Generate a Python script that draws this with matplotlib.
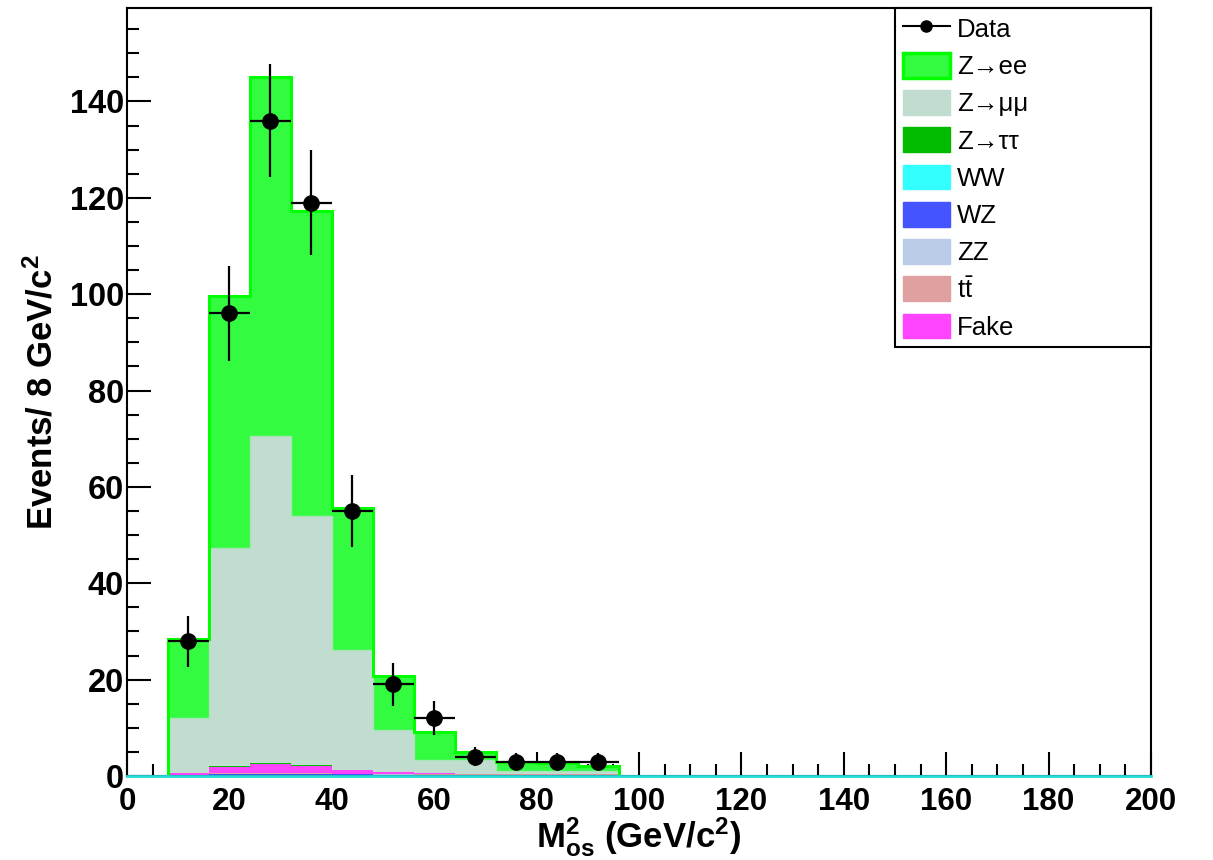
import numpy as np
import matplotlib
matplotlib.use("Agg")
import matplotlib.pyplot as plt
from matplotlib.patches import Patch
from matplotlib.lines import Line2D
from matplotlib.ticker import MultipleLocator

plt.rcParams['font.family'] = ['Liberation Sans', 'DejaVu Sans']
plt.rcParams['mathtext.fontset'] = 'custom'
plt.rcParams['mathtext.rm'] = 'Liberation Sans'
plt.rcParams['mathtext.bf'] = 'Liberation Sans:bold'
plt.rcParams['mathtext.it'] = 'Liberation Sans:italic'

# ---- data (bins of 8 GeV/c^2 from 8 to 96) ----
bin_edges = [8, 16, 24, 32, 40, 48, 56, 64, 72, 80, 88, 96]
bin_centers = [12, 20, 28, 36, 44, 52, 60, 68, 76, 84, 92]

data_counts = [28, 96, 136, 119, 55, 19, 12, 4, 3, 3, 3]
data_errors = [5.3, 9.8, 11.7, 10.9, 7.4, 4.4, 3.5, 2.0, 1.7, 1.7, 1.7]

ww     = [0.05, 0.1, 0.1, 0.1, 0.05, 0.05, 0.05, 0.05, 0.05, 0.05, 0.05]
wz     = [0.1, 0.3, 0.3, 0.3, 0.3, 0.25, 0.2, 0.2, 0.2, 0.2, 0.2]
zz     = [0.05, 0.1, 0.1, 0.1, 0.1, 0.05, 0.05, 0.05, 0.05, 0.05, 0.05]
ttbar  = [0.02, 0.05, 0.05, 0.05, 0.05, 0.05, 0.05, 0.05, 0.05, 0.05, 0.05]
fake   = [0.35, 1.25, 1.85, 1.5, 0.75, 0.4, 0.25, 0.15, 0.05, 0.05, 0.05]
ztautau = [0.03, 0.2, 0.4, 0.15, 0.05, 0.0, 0.0, 0.0, 0.0, 0.0, 0.0]
zmumu  = [11.4, 45.3, 67.7, 51.8, 24.8, 8.7, 2.7, 2.8, 0.7, 0.7, 0.7]
zee    = [16.4, 52.3, 74.5, 63.2, 29.5, 11.2, 5.9, 1.7, 1.9, 1.5, 1.0]

# stacking order bottom -> top
stack = [
    ("WW", ww, '#33ffff'),
    ("WZ", wz, '#4455ff'),
    ("ZZ", zz, '#bbcce8'),
    (r"t$\bar{\mathrm{t}}$", ttbar, '#e0a0a0'),
    ("Fake", fake, '#ff44ff'),
    ("Z→ττ", ztautau, '#00bb00'),
    ("Z→μμ", zmumu, '#c0ddd0'),
    ("Z→ee", zee, '#33fb40'),
]

fig = plt.figure(figsize=(12.13, 8.6), dpi=100)
ax = fig.add_axes([127/1213, 1-776/860, 1024/1213, 768/860])

edges = np.array(bin_edges, dtype=float)
bottom = np.zeros(len(bin_centers))
for name, vals, col in stack:
    top = bottom + np.array(vals)
    ax.stairs(top, edges, baseline=bottom, fill=True, color=col, lw=0, zorder=2)
    bottom = top
total = bottom

# outlines
mumu_top = total - np.array(zee)
ax.stairs(mumu_top, edges, baseline=0, fill=False, color='#a8e4b8', lw=1.0, zorder=3)
ax.stairs(total, edges, baseline=0, fill=False, color='#00ff00', lw=2.2, zorder=3)

# cyan line at bottom (empty histogram outline)
ax.plot([0, 200], [0, 0], color='#22dddd', lw=2.0, zorder=6, clip_on=False)

# data
ax.errorbar(bin_centers, data_counts, xerr=4, yerr=data_errors, fmt='o',
            color='black', ms=11, elinewidth=1.6, capsize=0, zorder=5)

ax.set_xlim(0, 200)
ax.set_ylim(0, 159.4)
ax.xaxis.set_major_locator(MultipleLocator(20))
ax.xaxis.set_minor_locator(MultipleLocator(5))
ax.yaxis.set_major_locator(MultipleLocator(20))
ax.yaxis.set_minor_locator(MultipleLocator(5))
ax.tick_params(which='both', direction='in', top=False, right=False, width=1.5)
ax.tick_params(which='major', length=17)
ax.tick_params(which='minor', length=8.5)
ax.tick_params(axis='x', which='major', labelsize=22.5, pad=8)
ax.tick_params(axis='y', which='major', labelsize=23.5, pad=2)
for lbl in ax.get_xticklabels() + ax.get_yticklabels():
    lbl.set_fontweight('bold')
for s in ax.spines.values():
    s.set_linewidth(1.5)

ax.set_xlabel(r"$\mathbf{M}^{\mathbf{2}}_{\mathbf{os}}$ (GeV/c$^{\mathbf{2}}$)",
              fontsize=25, fontweight='bold', va='top')
ax.xaxis.set_label_coords(0.5, -0.051)
ax.set_ylabel(r"Events/ 8 GeV/c$^{\mathbf{2}}$", fontsize=25, fontweight='bold')
ax.yaxis.set_label_coords(-0.066, 0.5)

# legend
handles = [Line2D([], [], color='black', marker='o', ms=8, lw=1.5)]
labels = ["Data"]
leg_order = ["Z→ee", "Z→μμ", "Z→ττ", "WW", "WZ", "ZZ", r"t$\bar{\mathrm{t}}$", "Fake"]
lookup = {n: c for n, v, c in stack}
for n in leg_order:
    if n == "Z→ee":
        handles.append(Patch(facecolor=lookup[n], edgecolor='#00ff00', lw=2.5))
    else:
        handles.append(Patch(facecolor=lookup[n], edgecolor=lookup[n], lw=1))
    labels.append(n)

leg = ax.legend(handles, labels, loc='upper left',
                bbox_to_anchor=(0.75, 1.0, 0.25, 0.0), mode='expand',
                borderaxespad=0, fontsize=18.5, frameon=True, fancybox=False,
                handlelength=1.83, handleheight=1.1, labelspacing=0.435,
                handletextpad=0.28, borderpad=0.3)
leg.get_frame().set_edgecolor('black')
leg.get_frame().set_linewidth(1.5)
leg.get_frame().set_alpha(1)
leg.set_zorder(10)

fig.savefig("out.png", dpi=100)
